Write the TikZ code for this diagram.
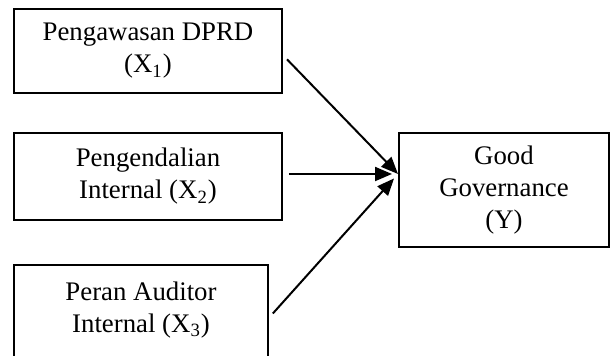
\documentclass[tikz,border=0pt]{standalone}
\usepackage{fontspec}
\setmainfont{Liberation Serif}
\usetikzlibrary{arrows.meta}
\begin{document}
\begin{tikzpicture}[
    x=0.5pt, y=-0.5pt,
    every node/.style={align=center, font=\fontsize{13.4}{16}\selectfont},
    varbox/.style={draw, line width=0.8pt, inner sep=0pt},
    path arrow/.style={draw, line width=1pt, -{Triangle[length=8.5pt,width=7pt]}, shorten <=3pt},
    ]
\useasboundingbox (0,0) rectangle (611,356);
\node[varbox, minimum width=134pt, minimum height=42pt] (pengawasan) at (148,51) {Pengawasan DPRD\\(X\textsubscript{1})};
\node[varbox, minimum width=134pt, minimum height=43.5pt] (pengendalian) at (148,176.5) {Pengendalian\\Internal (X\textsubscript{2})};
\node[varbox, minimum width=127pt, minimum height=50.5pt] (auditor) at (141,315.5) {};
\node (auditorText) at (141,310) {Peran Auditor\\Internal (X\textsubscript{3})};
\node[varbox, minimum width=105pt, minimum height=57pt] (governance) at (504,190) {Good\\Governance\\(Y)};
\coordinate (hub) at (398,174);
\draw[path arrow] (pengawasan.east) ++(0,4) -- (hub);
\draw[path arrow, shorten >=3pt] (pengendalian.east |- hub) -- (hub);
\draw[path arrow, shorten >=3pt] (auditor.east |- 0,318) -- (hub);
\end{tikzpicture}
\end{document}
